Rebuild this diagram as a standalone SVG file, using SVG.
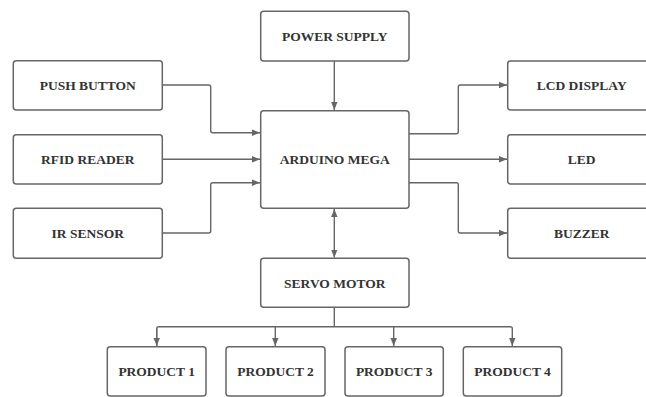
<svg xmlns="http://www.w3.org/2000/svg" width="646" height="397" viewBox="0 0 646 397">
<style>
.box{fill:#fff;stroke:#666;stroke-width:1.5}
.lbl{font-family:"Liberation Serif","DejaVu Serif",serif;font-weight:bold;font-size:13.5px;fill:#333;text-anchor:middle;dominant-baseline:central}
.c{fill:none;stroke:#666;stroke-width:1.4;stroke-linejoin:round}
</style>
<defs>
<marker id="ah" viewBox="0 0 10 10" refX="10" refY="5" markerWidth="8" markerHeight="8" markerUnits="userSpaceOnUse" orient="auto-start-reverse">
<path d="M0,1 L10,5 L0,9 z" fill="#666"/>
</marker>
</defs>
<rect width="646" height="397" fill="#fff"/>
<g id="connectors">
<path class="c" d="M334.3,61 V110" marker-end="url(#ah)"/>
<path class="c" d="M162.3,85 H208.7 Q210.7,85 210.7,87 V130.7 Q210.7,132.7 212.7,132.7 H260" marker-end="url(#ah)"/>
<path class="c" d="M162.3,159.3 H260" marker-end="url(#ah)"/>
<path class="c" d="M162.3,233 H208.7 Q210.7,233 210.7,231 V184.7 Q210.7,182.7 212.7,182.7 H260" marker-end="url(#ah)"/>
<path class="c" d="M409,133.7 H456.3 Q458.3,133.7 458.3,131.7 V87 Q458.3,85 460.3,85 H507" marker-end="url(#ah)"/>
<path class="c" d="M409,159.3 H507" marker-end="url(#ah)"/>
<path class="c" d="M409,182.7 H456.3 Q458.3,182.7 458.3,184.7 V231 Q458.3,233 460.3,233 H507" marker-end="url(#ah)"/>
<path class="c" d="M334.3,209 V257.6" marker-start="url(#ah)" marker-end="url(#ah)"/>
<path class="c" d="M334.3,307.3 V326.7"/>
<path class="c" d="M156.7,346 V328.7 Q156.7,326.7 158.7,326.7 H510.3 Q512.3,326.7 512.3,328.7 V346" marker-end="url(#ah)"/>
<path class="c" d="M156.7,328.7 V346" marker-end="url(#ah)"/>
<path class="c" d="M275.3,326.7 V346" marker-end="url(#ah)"/>
<path class="c" d="M393.7,326.7 V346" marker-end="url(#ah)"/>
</g>
<g id="power"><rect class="box" x="260.7" y="11.3" width="148.3" height="49.7" rx="3"/><text class="lbl" x="334.8" y="36.5">POWER SUPPLY</text></g>
<g id="push"><rect class="box" x="13.3" y="60.7" width="149" height="49.3" rx="3"/><text class="lbl" x="87.8" y="85.5">PUSH BUTTON</text></g>
<g id="rfid"><rect class="box" x="13.3" y="134.7" width="149" height="49.3" rx="3"/><text class="lbl" x="87.8" y="159.5">RFID READER</text></g>
<g id="ir"><rect class="box" x="13.3" y="208.3" width="149" height="50" rx="3"/><text class="lbl" x="87.8" y="233.5">IR SENSOR</text></g>
<g id="arduino"><rect class="box" x="260.7" y="110.7" width="148.3" height="97.6" rx="3"/><text class="lbl" x="334.8" y="159.5">ARDUINO MEGA</text></g>
<g id="lcd"><rect class="box" x="507.7" y="61" width="148" height="49" rx="3"/><text class="lbl" x="581.7" y="85.5">LCD DISPLAY</text></g>
<g id="led"><rect class="box" x="507.7" y="134.7" width="148" height="49.3" rx="3"/><text class="lbl" x="581.7" y="159.5">LED</text></g>
<g id="buzzer"><rect class="box" x="507.7" y="208.3" width="148" height="50" rx="3"/><text class="lbl" x="581.7" y="233.5">BUZZER</text></g>
<g id="servo"><rect class="box" x="260.7" y="258.3" width="148.3" height="49" rx="3"/><text class="lbl" x="334.8" y="283">SERVO MOTOR</text></g>
<g id="p1"><rect class="box" x="107.3" y="346.7" width="98.7" height="49.3" rx="3"/><text class="lbl" x="156.7" y="371.5">PRODUCT 1</text></g>
<g id="p2"><rect class="box" x="226" y="346.7" width="99" height="49.3" rx="3"/><text class="lbl" x="275.5" y="371.5">PRODUCT 2</text></g>
<g id="p3"><rect class="box" x="345" y="346.7" width="98.3" height="49.3" rx="3"/><text class="lbl" x="394.2" y="371.5">PRODUCT 3</text></g>
<g id="p4"><rect class="box" x="463.3" y="346.7" width="98.4" height="49.3" rx="3"/><text class="lbl" x="512.5" y="371.5">PRODUCT 4</text></g>
</svg>
